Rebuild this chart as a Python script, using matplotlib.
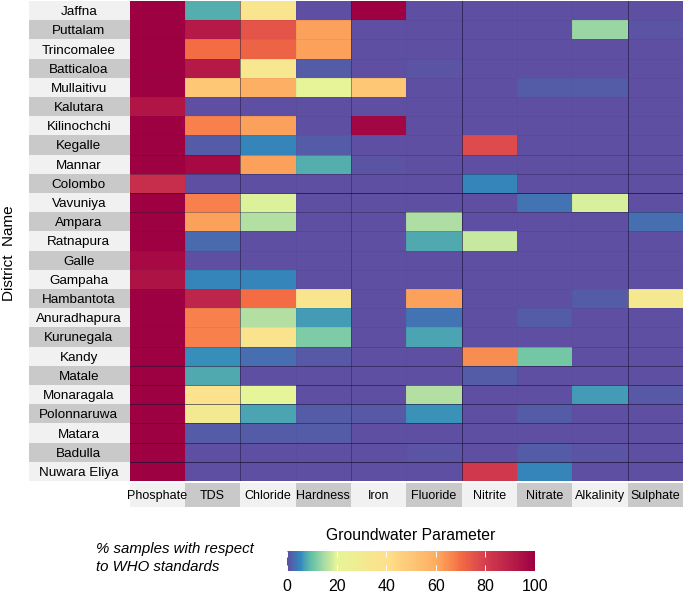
import matplotlib
matplotlib.use('Agg')
import matplotlib.pyplot as plt
import numpy as np
from matplotlib.colors import LinearSegmentedColormap
from matplotlib.patches import Rectangle

plt.rcParams['font.family'] = ['Liberation Sans', 'DejaVu Sans']

districts = ['Jaffna', 'Puttalam', 'Trincomalee', 'Batticaloa', 'Mullaitivu', 'Kalutara', 'Kilinochchi',
             'Kegalle', 'Mannar', 'Colombo', 'Vavuniya', 'Ampara', 'Ratnapura', 'Galle', 'Gampaha',
             'Hambantota', 'Anuradhapura', 'Kurunegala', 'Kandy', 'Matale', 'Monaragala', 'Polonnaruwa',
             'Matara', 'Badulla', 'Nuwara Eliya']
parameters = ['Phosphate', 'TDS', 'Chloride', 'Hardness', 'Iron', 'Fluoride', 'Nitrite', 'Nitrate',
              'Alkalinity', 'Sulphate']

# % samples, one list per parameter, same order as districts
phosphate = [100, 100, 100, 100, 100, 93, 100, 100, 100, 85, 100, 100, 100, 97, 94, 100, 100, 100, 100, 100, 100, 100, 100, 100, 100]
tds = [8.3, 92, 70, 92, 50, 0.2, 67, 1.3, 97, 0.2, 67, 62, 2.5, 0.2, 5, 88, 67, 67, 5.5, 8, 38, 31, 1.2, 0.3, 0.2]
chloride = [35, 75, 72, 33, 59, 0, 62, 5, 62, 0, 19.5, 16, 0, 0, 5, 70, 16, 37, 2.8, 0.2, 20.5, 7.5, 1.2, 0.3, 0.2]
hardness = [0, 62, 62, 1.2, 21, 0, 0, 1.2, 8.3, 0, 0, 0, 0, 0, 0, 35, 7, 12, 1, 0.2, 0, 1.2, 1.2, 0.2, 0.2]
iron = [100, 0.2, 0, 0, 50, 0, 98, 0, 0.6, 0, 0, 0, 0, 0, 0, 0, 0, 0, 0.1, 0.1, 0, 0.8, 0, 0.2, 0]
fluoride = [0, 0, 0, 0.5, 0, 0, 0, 0, 0, 0, 0.2, 15.5, 8, 0, 0, 62, 3.5, 7.5, 0.1, 0.1, 16, 6, 0, 0.5, 0]
nitrite = [0, 0, 0, 0, 0, 0, 0, 77, 0, 5, 0, 0, 17.5, 0, 0.2, 0, 0, 0, 65, 1.2, 0, 0.1, 0, 0.1, 82]
nitrate = [0, 0, 0, 0, 1.2, 0, 0, 0, 0, 0, 3.3, 0, 0, 0, 0, 0, 1.2, 0, 11, 0.1, 0, 1.3, 0, 1.3, 5]
alkalinity = [0, 14, 0, 0, 1.2, 0, 0, 0, 0, 0, 19, 0, 0, 0, 0, 1.5, 0, 0, 0, 0, 7, 0, 0, 0.5, 0]
sulphate = [0, 0.5, 0, 0, 0, 0, 0, 0, 0, 0, 0, 3, 0, 0, 0, 32, 0, 0, 0, 0, 1, 0, 0, 0, 0]

values = np.array([phosphate, tds, chloride, hardness, iron, fluoride, nitrite, nitrate, alkalinity, sulphate]).T

# Spectral, but stretched towards the low end like the original legend
cmap = LinearSegmentedColormap.from_list('spectral_stretched', [
    (0.00, '#5e4fa2'), (0.05, '#3288bd'), (0.10, '#66c2a5'), (0.15, '#abdda4'), (0.20, '#e6f598'),
    (0.40, '#fee08b'), (0.60, '#fdae61'), (0.70, '#f46d43'), (0.80, '#d53e4f'), (1.00, '#9e0142')])

W, H = 685, 595
fig = plt.figure(figsize=(W / 100, H / 100), dpi=100)

ax = fig.add_axes([129.5 / W, 1 - 481 / H, 553.5 / W, 480 / H])
mesh = ax.pcolormesh(values, cmap=cmap, vmin=0, vmax=100)
ax.set_xlim(0, 10)
ax.set_ylim(25, 0)
for s in ax.spines.values():
    s.set_visible(False)

# grey/white bands behind the labels
row_w = 100.5 / 55.35
col_h = 24.5 / 19.2
for i in range(25):
    ax.add_patch(Rectangle((-row_w, i), row_w, 1, color='#c9c9c9' if i % 2 else '#f1f1f1', clip_on=False, lw=0))
for j in range(10):
    ax.add_patch(Rectangle((j, 25.1), 1, col_h, color='#c9c9c9' if j % 2 else '#f1f1f1', clip_on=False, lw=0))

ax.set_yticks(np.arange(25) + 0.5, districts, fontsize=9.7, ha='center')
ax.set_xticks(np.arange(10) + 0.5, parameters, fontsize=9)
ax.tick_params(axis='y', length=0, pad=36.5)
ax.tick_params(axis='x', length=0, pad=6.5)
ax.set_zorder(2)

# the dark rules over the cells, strength varies across the original
for x, a in [(2, 0.5), (4, 0.4), (6, 0.65), (9, 0.6)]:
    ax.axvline(x, color='#1c1438', lw=0.7, alpha=a)
for x in [1, 3, 5, 7, 8]:
    ax.axvline(x, color='#1c1438', lw=0.5, alpha=0.05)
row_rules = {8: 0.25, 9: 0.35, 10: 0.8, 11: 0.35, 12: 0.12, 18: 0.2, 19: 0.55, 20: 0.6, 21: 0.6, 22: 0.5, 23: 0.6, 24: 0.75}
for y in range(1, 25):
    ax.axhline(y, color='#1c1438', lw=0.7, alpha=row_rules.get(y, 0.05))

fig.text(9 / W, 1 - 253 / H, 'District  Name', rotation=90, ha='center', va='center', fontsize=11)

fig.text(96 / W, 1 - 549 / H, '% samples with respect', style='italic', ha='left', va='center', fontsize=10.8)
fig.text(96 / W, 1 - 567 / H, 'to WHO standards', style='italic', ha='left', va='center', fontsize=10.8)
fig.text(411 / W, 1 - 535 / H, 'Groundwater Parameter', ha='center', va='center', fontsize=11.3)

cax = fig.add_axes([287 / W, 1 - 571 / H, 248 / W, 20 / H])
cb = fig.colorbar(mesh, cax=cax, orientation='horizontal', ticks=[0, 20, 40, 60, 80, 100])
cb.outline.set_visible(False)
cax.tick_params(axis='x', which='both', length=4, width=0.7, color='white', direction='in', top=True,
                labelsize=11.5, pad=6)

fig.savefig('out.png', dpi=100)
